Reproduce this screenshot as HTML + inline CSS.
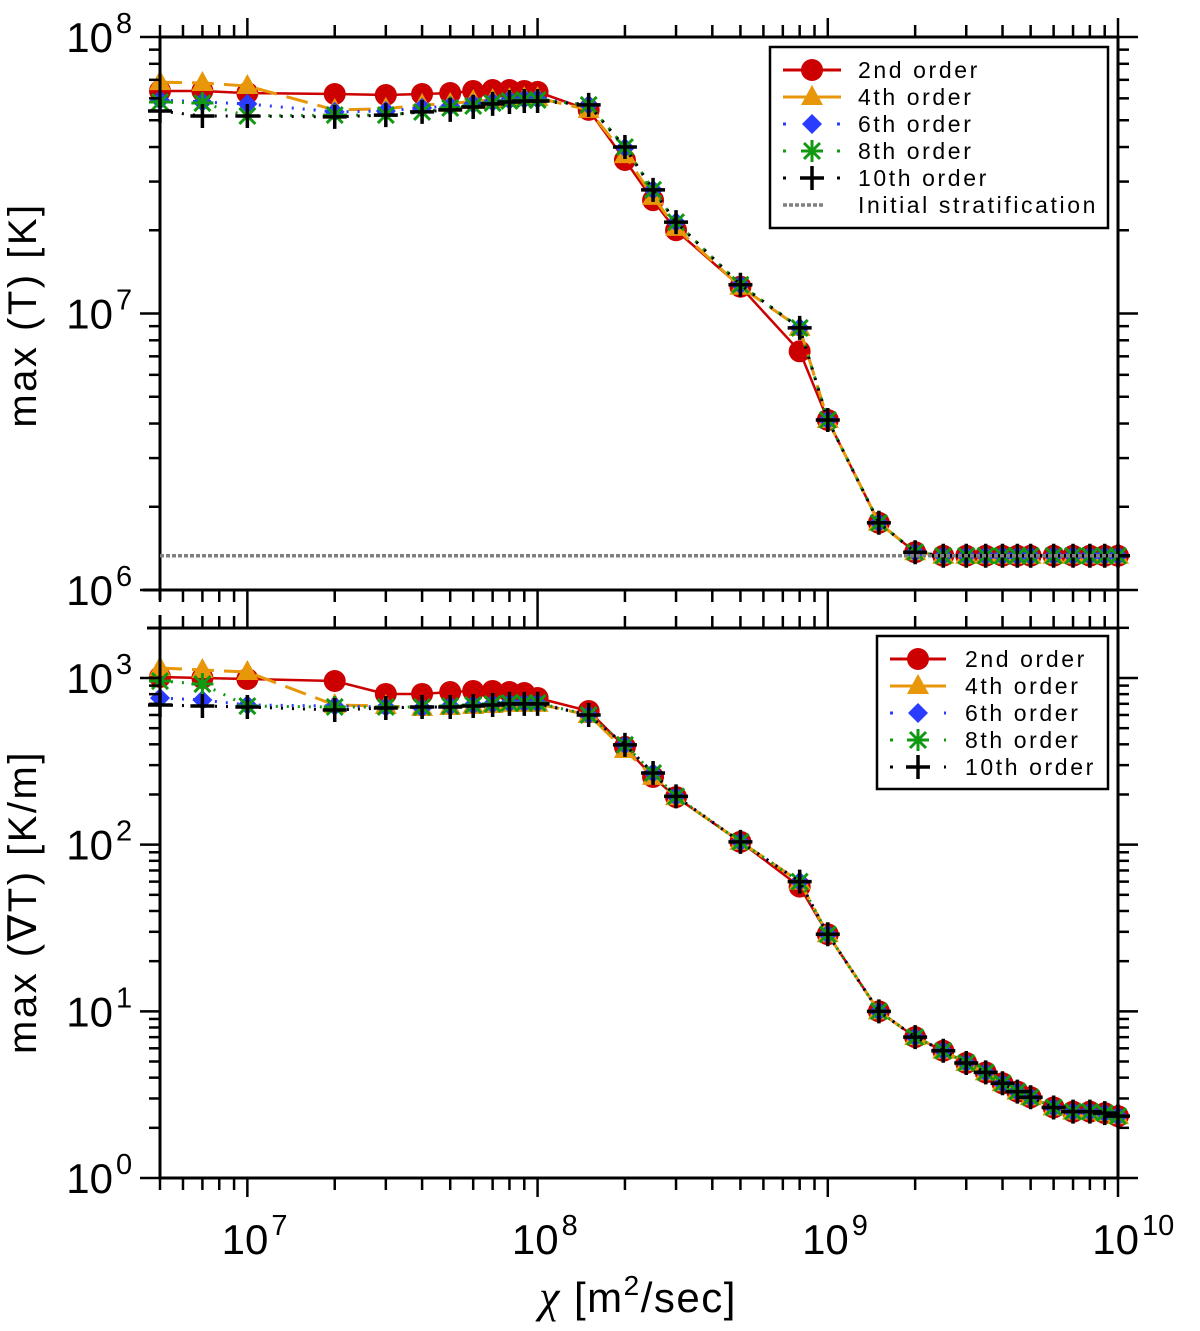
<!DOCTYPE html>
<html><head><meta charset="utf-8"><style>
html,body{margin:0;padding:0;background:#fff;}
svg{display:block;font-family:"Liberation Sans",sans-serif;}
</style></head><body>
<svg id="chart" width="1200" height="1331" viewBox="0 0 1200 1331" xmlns="http://www.w3.org/2000/svg"></svg>
<script>
const xVals=[5e6,7e6,1e7,2e7,3e7,4e7,5e7,6e7,7e7,8e7,9e7,1e8,1.5e8,2e8,2.5e8,3e8,5e8,8e8,1e9,1.5e9,2e9,2.5e9,3e9,3.5e9,4e9,4.5e9,5e9,6e9,7e9,8e9,9e9,1e10];
const tailT=[4.12e6,1.75e6,1.37e6,1.33e6,1.33e6,1.33e6,1.33e6,1.33e6,1.33e6,1.33e6,1.33e6,1.33e6,1.33e6,1.33e6];
const tempO2=[6.38e7,6.38e7,6.27e7,6.22e7,6.17e7,6.22e7,6.27e7,6.38e7,6.43e7,6.43e7,6.38e7,6.33e7,5.45e7,3.59e7,2.57e7,2.0e7,1.25e7,7.3e6].concat(tailT);
const tempO4=[6.87e7,6.82e7,6.65e7,5.45e7,5.5e7,5.68e7,5.73e7,5.87e7,5.92e7,5.97e7,6.02e7,6.02e7,5.45e7,3.74e7,2.64e7,2.04e7,1.25e7,8.87e6].concat(tailT);
const tempO6=[5.92e7,5.82e7,5.73e7,5.36e7,5.4e7,5.54e7,5.63e7,5.73e7,5.82e7,5.92e7,5.97e7,5.97e7,5.68e7,3.97e7,2.8e7,2.14e7,1.27e7,8.87e6].concat(tailT);
const tempO8=[5.82e7,5.77e7,5.18e7,5.22e7,5.22e7,5.36e7,5.54e7,5.63e7,5.77e7,5.87e7,5.92e7,5.92e7,5.68e7,4.0e7,2.8e7,2.14e7,1.27e7,8.87e6].concat(tailT);
const tempO10=[5.4e7,5.18e7,5.18e7,5.14e7,5.22e7,5.36e7,5.45e7,5.58e7,5.73e7,5.82e7,5.87e7,5.87e7,5.68e7,4.0e7,2.8e7,2.14e7,1.27e7,8.87e6].concat(tailT);
const initStrat=1.33e6;
const tailG=[29,10,7.0,5.8,4.9,4.3,3.7,3.3,3.05,2.65,2.5,2.5,2.45,2.35];
const gradO2=[1014,1000,986,959,802,802,824,836,836,824,813,759,634,386,255,193,104,56].concat(tailG);
const gradO4=[1148,1117,1086,689,679,661,670,679,689,699,699,699,600,370,255,193,104,60].concat(tailG);
const gradO6=[759,738,689,679,670,661,679,689,699,708,708,708,600,397,269,195,104,60].concat(tailG);
const gradO8=[959,920,679,670,670,670,679,689,699,708,708,708,600,397,269,195,104,60].concat(tailG);
const gradO10=[689,679,670,643,661,670,670,679,689,699,699,699,600,397,269,195,104,60].concat(tailG);
const xTickLabels=["7","8","9","10"];

const svg=document.getElementById('chart');
const NS="http://www.w3.org/2000/svg";
function el(tag,attrs,parent){const e=document.createElementNS(NS,tag);for(const k in attrs)e.setAttribute(k,attrs[k]);(parent||svg).appendChild(e);return e;}
const X0=160,X1=1118,xMinL=Math.log10(5e6),xMaxL=10;
function xs(v){return X0+(Math.log10(v)-xMinL)/(xMaxL-xMinL)*(X1-X0);}
function mkY(top,bot,lmin,lmax){return v=>bot-(Math.log10(v)-lmin)/(lmax-lmin)*(bot-top);}
const yT=mkY(37,590,6,8);
const gradTopL=3+(678-628)/166.7;
const yG2=mkY(628,1178,0,gradTopL);

const series=[
 {name:'2nd order',color:'#cc0000',dash:'',m:'circle'},
 {name:'4th order',color:'#e8960a',dash:'22,10',m:'tri'},
 {name:'6th order',color:'#2a3cff',dash:'2,9',m:'diamond'},
 {name:'8th order',color:'#129912',dash:'2,9',m:'star'},
 {name:'10th order',color:'#000',dash:'2,9',m:'plus'}];

function marker(g,type,x,y,c){
 let e;
 if(type==='circle')e=el('circle',{cx:x,cy:y,r:11,fill:c},g);
 else if(type==='tri')e=el('polygon',{points:`${x},${y-12} ${x+11},${y+8} ${x-11},${y+8}`,fill:c},g);
 else if(type==='diamond')e=el('polygon',{points:`${x},${y-10} ${x+10},${y} ${x},${y+10} ${x-10},${y}`,fill:c},g);
 else if(type==='star'){e=el('path',{d:`M${x-11},${y}H${x+11}M${x},${y-11}V${y+11}M${x-8},${y-8}L${x+8},${y+8}M${x-8},${y+8}L${x+8},${y-8}`,stroke:c,'stroke-width':3,fill:'none'},g);}
 else e=el('path',{d:`M${x-12},${y}H${x+12}M${x},${y-12}V${y+12}`,stroke:c,'stroke-width':3.5,fill:'none'},g);
 return e;
}

function panel(pname,top,bot,ys,lmin,lmax,data){
 const g=el('g',{});
 
 
 data.forEach((arr,i)=>{
  const s=series[i];
  const sg=el('g',{},g);
  
  
  const pts=arr.map((v,j)=>xs(xVals[j]).toFixed(1)+','+ys(v).toFixed(1)).join(' ');
  const a={points:pts,fill:'none',stroke:s.color,'stroke-width':i===0?2.5:3,'stroke-linecap':'butt'};
  if(s.dash)a['stroke-dasharray']=s.dash;
  el('polyline',a,sg);
  arr.forEach((v,j)=>marker(sg,s.m,xs(xVals[j]),ys(v),s.color));
 });
 const f=el('rect',{x:X0,y:top,width:X1-X0,height:bot-top,fill:'none',stroke:'#000','stroke-width':3},g);
 
 
 for(let d=lmin;d<=Math.ceil(lmax);d++){
  for(let k=1;k<10;k++){
   const v=Math.pow(10,d)*k;const y=ys(v);
   if(y<top-0.5||y>bot+0.5)continue;
   const len=k===1?20:11;
   el('line',{x1:X0,x2:X0-len,y1:y,y2:y,stroke:'#000','stroke-width':2.5},g);
   el('line',{x1:X1,x2:X1+len,y1:y,y2:y,stroke:'#000','stroke-width':2.5},g);
   if(k===1){
    const t=el('text',{x:113,y:y+15,'text-anchor':'end','font-size':42},g);
    
    
    t.textContent='10';
    const s=el('tspan',{x:116,dy:-19,'font-size':29,'text-anchor':'start'},t);s.textContent=String(d);
   }
  }
 }
 return g;
}
function xTicks(y,dir){
 for(let d=6;d<=10;d++)for(let k=1;k<10;k++){
  const v=Math.pow(10,d)*k;if(v<5e6-1||v>1e10+1)continue;
  const x=xs(v);const len=k===1?19:12;
  el('line',{x1:x,x2:x,y1:y,y2:y+dir*len,stroke:'#000','stroke-width':2.5});
 }
}
panel('temperature-panel',37,590,yT,6,8,[tempO2,tempO4,tempO6,tempO8,tempO10]);
panel('gradient-panel',628,1178,yG2,0,gradTopL,[gradO2,gradO4,gradO6,gradO8,gradO10]);
const isl=el('line',{x1:X0,x2:X1,y1:yT(initStrat),y2:yT(initStrat),stroke:'#808080','stroke-width':3.5,'stroke-dasharray':'4,2'});


xTicks(37,-1);xTicks(590,1);xTicks(628,-1);xTicks(1178,1);
el('line',{x1:143,x2:X0,y1:590,y2:590,stroke:'#000','stroke-width':3});
el('line',{x1:147,x2:X0,y1:628,y2:628,stroke:'#000','stroke-width':3});
el('line',{x1:X0,x2:X0,y1:590,y2:600,stroke:'#000','stroke-width':3});
el('line',{x1:X0,x2:X0,y1:615,y2:628,stroke:'#000','stroke-width':3});
xTickLabels.forEach(p=>{
 const x=xs(Math.pow(10,+p));
 const t=el('text',{x:x+21,y:1254,'text-anchor':'end','font-size':42});
 
 
 t.textContent='10';
 const s=el('tspan',{x:x+24,dy:-19,'font-size':29,'text-anchor':'start'});s.textContent=p;t.appendChild(s);
});
let t=el('text',{x:638,y:1312,'text-anchor':'middle','font-size':42,'letter-spacing':'1.5'});


t.innerHTML='<tspan font-style="italic" font-family="Liberation Serif" font-size="46">χ</tspan> [m<tspan dy="-17" font-size="28">2</tspan><tspan dy="17">/sec]</tspan>';
t=el('text',{x:0,y:0,'text-anchor':'middle','font-size':40,'letter-spacing':'2.5',transform:'translate(36,315) rotate(-90)'});


t.textContent='max (T) [K]';
t=el('text',{x:0,y:0,'text-anchor':'middle','font-size':40,'letter-spacing':'2.5',transform:'translate(36,902) rotate(-90)'});


t.textContent='max (∇T) [K/m]';
function legend(name,bx,by,bw,bh,sx0,sx1,tx,y0,items){
 const g=el('g',{});
 
 
 el('rect',{x:bx,y:by,width:bw,height:bh,fill:'#fff',stroke:'#000','stroke-width':2.5},g);
 items.forEach((s,i)=>{
  const y=y0+i*27;
  const eg=el('g',{},g);
  
  
  if(s.m==='line'){el('line',{x1:sx0,x2:sx1-18,y1:y,y2:y,stroke:'#808080','stroke-width':3.5,'stroke-dasharray':'4,2'},eg);}
  else{
   const a={x1:sx0,x2:sx1,y1:y,y2:y,stroke:s.color,'stroke-width':3};
   if(s.dash)a['stroke-dasharray']=s.dash==='22,10'?'':'3,24';
   el('line',a,eg);
   marker(eg,s.m,(sx0+sx1)/2,y,s.color);
  }
  const tt=el('text',{x:tx,y:y+8,'font-size':23,'letter-spacing':'2.6'},eg);
  tt.textContent=s.name;
 });
}
legend('temperature-legend',770,47,338,181,783,841,858,70,series.concat([{name:'Initial stratification',m:'line'}]));
legend('gradient-legend',877,636,231,153,890,946,965,659,series);
</script>
</body></html>
